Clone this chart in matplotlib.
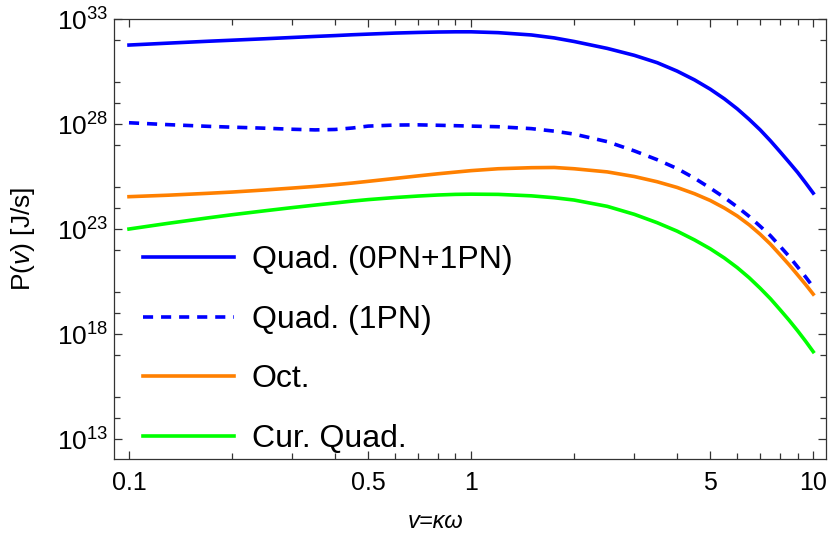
import numpy as np
import matplotlib.pyplot as plt
from matplotlib.ticker import FixedLocator, NullFormatter

plt.rcParams['font.family'] = ['Liberation Sans', 'DejaVu Sans']
plt.rcParams['mathtext.fontset'] = 'custom'
plt.rcParams['mathtext.rm'] = 'Liberation Sans'
plt.rcParams['mathtext.it'] = 'Liberation Sans:italic'

# frequency nu = kappa*omega
nu = [0.1, 0.13, 0.17, 0.2, 0.25, 0.3, 0.35, 0.4, 0.45, 0.5, 0.6, 0.7, 0.8,
      0.9, 1.0, 1.2, 1.5, 1.75, 2.0, 2.5, 3.0, 3.5, 4.0, 4.5, 5.0, 5.5, 6.0,
      6.5, 7.0, 7.5, 8.0, 8.5, 9.0, 9.5, 10.0]

# log10 of P(nu) in J/s
log_quad_tot = [31.76, 31.85, 31.94, 31.99, 32.06, 32.12, 32.17, 32.21, 32.25,
                32.28, 32.33, 32.36, 32.38, 32.39, 32.39, 32.35, 32.24, 32.10,
                31.93, 31.60, 31.27, 30.92, 30.52, 30.10, 29.66, 29.20, 28.72,
                28.22, 27.72, 27.20, 26.68, 26.18, 25.70, 25.20, 24.71]
log_quad_1pn = [28.06, 27.97, 27.89, 27.85, 27.80, 27.75, 27.72, 27.74, 27.81,
                27.90, 27.95, 27.96, 27.94, 27.92, 27.90, 27.87, 27.78, 27.66,
                27.52, 27.16, 26.72, 26.30, 25.88, 25.42, 24.95, 24.50, 24.05,
                23.60, 23.13, 22.68, 22.18, 21.70, 21.20, 20.72, 20.24]
log_oct = [24.54, 24.61, 24.70, 24.76, 24.86, 24.95, 25.03, 25.11, 25.19,
           25.27, 25.41, 25.53, 25.63, 25.71, 25.78, 25.87, 25.92, 25.93,
           25.87, 25.72, 25.50, 25.25, 24.98, 24.68, 24.36, 24.00, 23.62,
           23.20, 22.75, 22.28, 21.78, 21.30, 20.82, 20.36, 19.90]
log_cur_quad = [23.00, 23.27, 23.53, 23.68, 23.87, 24.02, 24.14, 24.24, 24.33,
                24.40, 24.50, 24.57, 24.62, 24.65, 24.66, 24.65, 24.58, 24.49,
                24.38, 24.08, 23.70, 23.30, 22.90, 22.48, 22.06, 21.62, 21.16,
                20.68, 20.18, 19.68, 19.16, 18.66, 18.16, 17.66, 17.16]

labels = ['Quad. (0PN+1PN)', 'Quad. (1PN)', 'Oct.', 'Cur. Quad.']

x_major = [0.1, 0.5, 1, 5, 10]
x_minor = [0.2, 0.3, 0.4, 0.6, 0.7, 0.8, 0.9, 2, 3, 4, 6, 7, 8, 9]
y_major_exp = [13, 18, 23, 28, 33]
y_minor_exp = [12, 14, 15, 17, 19, 20, 22, 24, 25, 27, 29, 30, 32]

fig = plt.figure(figsize=(8.3, 5.43), dpi=100)
ax = fig.add_axes([114 / 830, 1 - 459 / 543, 712 / 830, 440 / 543])

lw = 2.6
ax.plot(nu, 10 ** np.array(log_quad_tot), color='#0000ff', lw=lw, label=labels[0])
ax.plot(nu, 10 ** np.array(log_quad_1pn), color='#0000ff', lw=lw,
        dashes=(2.8, 2.2), label=labels[1])
ax.plot(nu, 10 ** np.array(log_oct), color='#ff8000', lw=lw, label=labels[2])
ax.plot(nu, 10 ** np.array(log_cur_quad), color='#00ff00', lw=lw, label=labels[3])

ax.set_xscale('log')
ax.set_yscale('log')
ax.set_xlim(0.0904, 10.9)
ax.set_ylim(10 ** 12.05, 1e33)

ax.xaxis.set_major_locator(FixedLocator(x_major))
ax.xaxis.set_minor_locator(FixedLocator(x_minor))
ax.set_xticklabels(['0.1', '0.5', '1', '5', '10'])
ax.xaxis.set_minor_formatter(NullFormatter())

ax.yaxis.set_major_locator(FixedLocator([10.0 ** e for e in y_major_exp]))
ax.yaxis.set_minor_locator(FixedLocator([10.0 ** e for e in y_minor_exp]))
ax.set_yticklabels(['$10^{%d}$' % e for e in y_major_exp])
ax.yaxis.set_minor_formatter(NullFormatter())

ax.tick_params(which='both', direction='in', top=True, right=True,
               color='#333333', width=0.9)
ax.tick_params(which='major', length=6)
ax.tick_params(axis='x', which='major', pad=9, labelsize=18)
ax.tick_params(axis='y', which='major', pad=4, labelsize=19)
ax.tick_params(which='minor', length=4)
for s in ax.spines.values():
    s.set_color('#333333')
    s.set_linewidth(0.9)

ax.set_ylabel(r'P($\mathit{v}$) [J/s]', fontsize=19)
ax.yaxis.set_label_coords(-0.108, 0.5)
ax.set_xlabel('v=κω', fontsize=17, style='italic')
ax.xaxis.set_label_coords(0.451, -0.115)

ax.legend(loc='upper left', bbox_to_anchor=(143 / 830, 1 - 245 / 543),
          bbox_transform=fig.transFigure, frameon=False, fontsize=23,
          handlelength=2.85, handletextpad=0.55, labelspacing=0.93,
          borderpad=0, borderaxespad=0)

fig.savefig('out.png', dpi=100)
